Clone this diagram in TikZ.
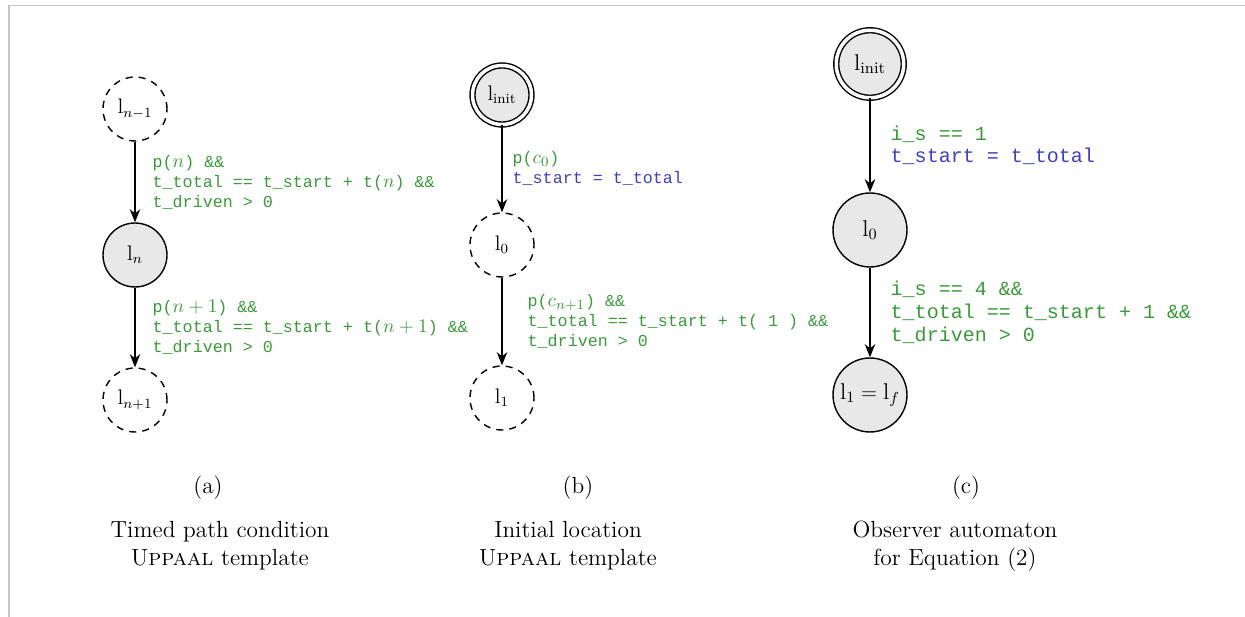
\documentclass[tikz,border=0pt]{standalone}
\usepackage{fontspec}
\setmonofont{Liberation Mono}
\usetikzlibrary{arrows.meta}
\definecolor{guardgreen}{RGB}{58,154,58}
\definecolor{updblue}{RGB}{64,64,192}
\newcommand\mvar[1]{{\fontsize{11}{11}\selectfont$#1$}}
\tikzset{
  loc/.style={circle, draw, thick, minimum size=1.28cm, inner sep=0pt, font=\fontsize{12}{14}\selectfont},
  locfill/.style={loc, fill=gray!18},
  locdash/.style={loc, dash pattern=on 4pt off 3.5pt},
  locinit/.style={locfill, double, double distance=2pt, minimum size=1.18cm},
  trans/.style={-{Stealth[length=7.5pt,width=6pt]}, thick},
  guard/.style={anchor=west, inner sep=0pt, align=left, font=\ttfamily\fontsize{9.5}{11.4}\selectfont},
  bigguard/.style={guard, font=\ttfamily\fontsize{11.4}{13}\selectfont},
  caption/.style={font=\fontsize{13.3}{16}\selectfont, align=center}
}
\begin{document}
\begin{tikzpicture}[x=0.02cm, y=-0.02cm]
\useasboundingbox (0,0) rectangle (1245,617);
% Rahmen
\draw[gray!45, line width=1pt] (9,617) -- (9,5.5) -- (1245,5.5);
% (a) Pfadbedingung
\node[locdash] (ln1) at (135,109) {$\mathrm{l}_{n-1}$};
\node[locfill] (ln) at (135,255) {$\mathrm{l}_{n}$};
\node[locdash] (lnp1) at (135,400) {$\mathrm{l}_{n+1}$};
\draw[trans] (ln1) -- node[guard, xshift=0.34cm] {\color{guardgreen}p(\mvar{n}) \&\&\\
  \color{guardgreen}t\_total == t\_start + t(\mvar{n}) \&\&\\
  \color{guardgreen}t\_driven > 0} (ln);
\draw[trans] (ln) -- node[guard, xshift=0.34cm] {\color{guardgreen}p(\mvar{n+1}) \&\&\\
  \color{guardgreen}t\_total == t\_start + t(\mvar{n+1}) \&\&\\
  \color{guardgreen}t\_driven > 0} (lnp1);
% (b) Initiale Location
\node[locinit] (binit) at (502,95) {$\mathrm{l}_{\mathrm{init}}$};
\node[locdash] (b0) at (502,245) {$\mathrm{l}_{0}$};
\node[locdash] (b1) at (502,398) {$\mathrm{l}_{1}$};
\draw[trans] (binit) -- node[guard, xshift=0.2cm] {\color{guardgreen}p(\mvar{c_0})\\
  \color{updblue}t\_start = t\_total} (b0);
\draw[trans] (b0) -- node[guard, xshift=0.5cm] {\color{guardgreen}p(\mvar{c_{n+1}}) \&\&\\
  \color{guardgreen}t\_total == t\_start + t( 1 ) \&\&\\
  \color{guardgreen}t\_driven > 0} (b1);
% (c) Beobachter
\node[locinit, minimum size=1.35cm, font=\fontsize{13}{15}\selectfont] (cinit) at (870,64) {$\mathrm{l}_{\mathrm{init}}$};
\node[locfill, minimum size=1.48cm, font=\fontsize{13}{15}\selectfont] (c0) at (870,230) {$\mathrm{l}_{0}$};
\node[locfill, minimum size=1.48cm, font=\fontsize{13}{15}\selectfont] (c1) at (870,395) {$\mathrm{l}_{1}=\mathrm{l}_{f}$};
\draw[trans] (cinit) -- node[bigguard, xshift=0.4cm] {\color{guardgreen}i\_s == 1\\
  \color{updblue}t\_start = t\_total} (c0);
\draw[trans] (c0) -- node[bigguard, xshift=0.4cm] {\color{guardgreen}i\_s == 4 \&\&\\
  \color{guardgreen}t\_total == t\_start + 1 \&\&\\
  \color{guardgreen}t\_driven > 0} (c1);
% Beschriftungen
\node[caption] (capa) at (208,488) {(a)};
\node[caption] (capb) at (578,488) {(b)};
\node[caption] (capc) at (966,488) {(c)};
\node[caption] (texta) at (220,546) {Timed path condition\\U\textsc{ppaal} template};
\node[caption] (textb) at (568,546) {Initial location\\U\textsc{ppaal} template};
\node[caption] (textc) at (955,546) {Observer automaton\\for Equation (2)};
\end{tikzpicture}
\end{document}
